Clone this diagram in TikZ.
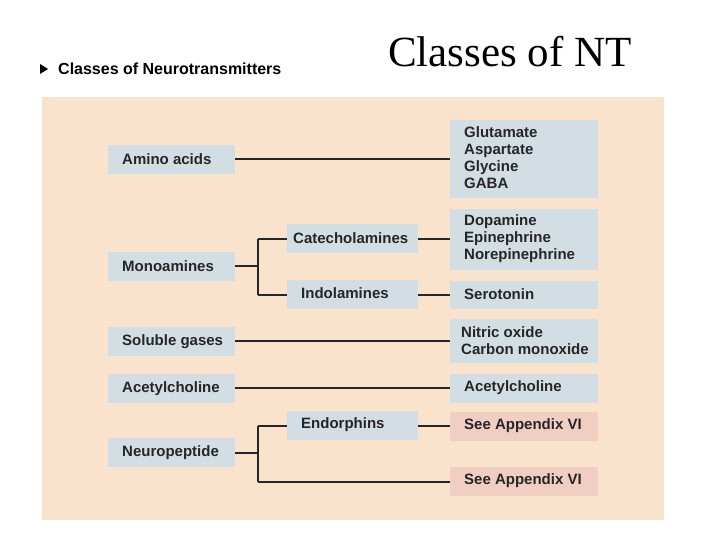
\documentclass[tikz,border=0pt]{standalone}
\usepackage{fontspec}
\setmainfont{Liberation Sans}
\newfontfamily\titlefont{Liberation Serif}
\definecolor{peach}{RGB}{250,227,205}
\definecolor{bluebox}{RGB}{210,222,228}
\definecolor{pinkbox}{RGB}{240,206,194}
\begin{document}
\begin{tikzpicture}[x=1pt,y=-1pt,
  lbl/.style={anchor=west,inner sep=0pt,font=\fontsize{15}{17}\selectfont\bfseries,align=left,text=black!85},
  ln/.style={line width=1.3pt,black!85}]
\useasboundingbox (0,0) rectangle (720,540);
\fill[peach] (42,97) rectangle (664,520);
\node[anchor=west,inner sep=0pt,font=\fontsize{16}{18}\selectfont\bfseries] (hdr) at (58,69) {Classes of Neurotransmitters};
\fill (40,64) -- (48,69) -- (40,74) -- cycle;
\node[font=\titlefont\fontsize{43}{46}\selectfont] (ttl) at (510,52) {Classes of NT};
% left
\fill[bluebox] (108,145) rectangle (235,174); \node[lbl] (aa) at (122,159.5) {Amino acids};
\fill[bluebox] (108,252) rectangle (235,281); \node[lbl] (ma) at (122,266.5) {Monoamines};
\fill[bluebox] (108,327) rectangle (235,356); \node[lbl] (sg) at (122,341.5) {Soluble gases};
\fill[bluebox] (108,374) rectangle (235,403); \node[lbl] (ac) at (122,388.5) {Acetylcholine};
\fill[bluebox] (108,438) rectangle (235,467); \node[lbl] (np) at (122,452.5) {Neuropeptide};
% middle
\fill[bluebox] (287,224) rectangle (418,253); \node[lbl] (ca) at (293,238.5) {Catecholamines};
\fill[bluebox] (287,280) rectangle (418,309); \node[lbl] (in) at (301,293.5) {Indolamines};
\fill[bluebox] (287,411) rectangle (418,440); \node[lbl] (en) at (301,424.5) {Endorphins};
% right
\fill[bluebox] (450,120) rectangle (598,198); \node[lbl] (r1) at (464,158) {Glutamate\\Aspartate\\Glycine\\GABA};
\fill[bluebox] (450,209) rectangle (598,270); \node[lbl] (r2) at (464,239) {Dopamine\\Epinephrine\\Norepinephrine};
\fill[bluebox] (450,281) rectangle (598,309); \node[lbl] (r3) at (464,294) {Serotonin};
\fill[bluebox] (450,319) rectangle (598,363); \node[lbl] (r4) at (461,340.5) {Nitric oxide\\Carbon monoxide};
\fill[bluebox] (450,374) rectangle (598,403); \node[lbl] (r5) at (464,387.5) {Acetylcholine};
\fill[pinkbox] (450,412) rectangle (598,441); \node[lbl] (r6) at (464,426) {See Appendix VI};
\fill[pinkbox] (450,467) rectangle (598,496); \node[lbl] (r7) at (464,481) {See Appendix VI};
% connectors
\coordinate (b1) at (258,266); \coordinate (b2) at (258,453);
\draw[ln] (235,159) -- (450,159);
\draw[ln] (235,266) -- (b1);
\draw[ln] (258,239) -- (258,295);
\draw[ln] (258,239) -- (287,239);
\draw[ln] (258,295) -- (287,295);
\draw[ln] (418,239) -- (450,239);
\draw[ln] (418,295) -- (450,295);
\draw[ln] (235,341) -- (450,341);
\draw[ln] (235,388) -- (450,388);
\draw[ln] (235,453) -- (b2);
\draw[ln] (258,426) -- (258,482);
\draw[ln] (258,426) -- (287,426);
\draw[ln] (418,426) -- (450,426);
\draw[ln] (258,482) -- (450,482);
\end{tikzpicture}
\end{document}
